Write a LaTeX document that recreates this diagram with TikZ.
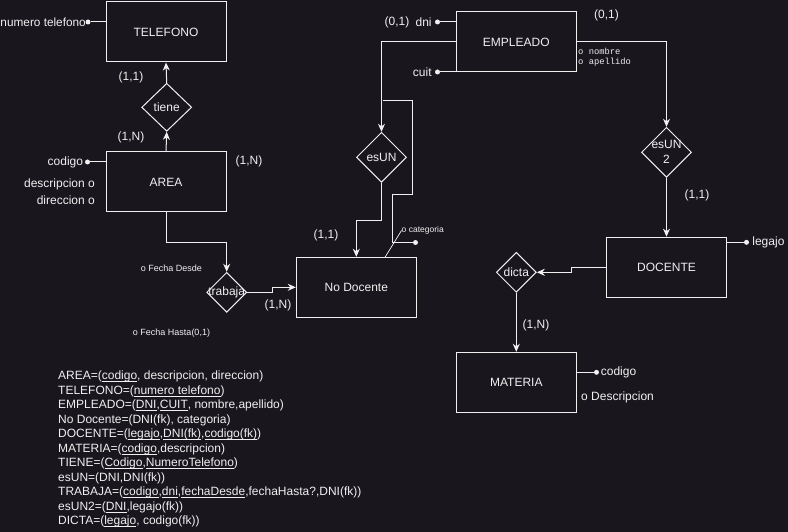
\documentclass[tikz,border=0pt]{standalone}
\usepackage{fontspec}
\setmainfont{Liberation Sans}
\newfontfamily\monof{Liberation Mono}
\usetikzlibrary{shapes.geometric,arrows.meta}
\definecolor{bgc}{RGB}{25,22,30}
\definecolor{fgc}{RGB}{240,240,240}
\newcommand\myul[1]{\underline{\smash{#1}}}
\begin{document}
\begin{tikzpicture}[x=1pt,y=-1pt,
  every node/.style={text=fgc,font=\fontsize{12}{14}\selectfont},
  entity/.style={draw=fgc,line width=1pt,rectangle,minimum width=120pt,minimum height=60pt,inner sep=0pt},
  rel/.style={draw=fgc,line width=1pt,diamond,inner sep=0pt},
  dotn/.style={circle,fill=fgc,inner sep=0pt,minimum size=5pt},
  conn/.style={draw=fgc,line width=1pt},
  arr/.style={conn,-{Stealth[length=8pt,width=7pt,inset=2.5pt]}},
  small/.style={font=\fontsize{9}{10}\selectfont},
  card/.style={font=\fontsize{12}{14}\selectfont}]
\fill[bgc] (0,0) rectangle (788,532);
\useasboundingbox (0,0) rectangle (788,532);

% entities
\node[entity] (tel) at (166,32) {TELEFONO};
\node[entity] (area) at (166,182) {AREA};
\node[entity] (emp) at (516.3,42) {EMPLEADO};
\node[entity] (nodoc) at (356.3,287.3) {No Docente};
\node[entity] (doc) at (666.5,267.2) {DOCENTE};
\node[entity] (mat) at (516.3,382.3) {MATERIA};

% relationships
\node[rel,minimum width=50pt,minimum height=48pt,label=center:tiene] (tiene) at (166.7,107.3) {};
\node[rel,minimum width=50pt,minimum height=50pt,label=center:esUN] (esun) at (381.5,157.3) {};
\node[rel,minimum width=50pt,minimum height=50pt,label={[align=center,font=\fontsize{12}{15}\selectfont]center:esUN\\2}] (esun2) at (666.5,152.3) {};
\node[rel,minimum width=40pt,minimum height=40pt,label=center:trabaja] (trab) at (226.7,292.3) {};
\node[rel,minimum width=40pt,minimum height=40pt,label=center:dicta] (dicta) at (516.3,272.3) {};

% TELEFONO / tiene / AREA
\draw[arr] (area.north) -- (tiene.south);
\draw[arr] (tiene.north) -- (tel.south);
\node[card] (c11a) at (131,77) {(1,1)};
\node[card] (c1na) at (131,137) {(1,N)};
\node[dotn] (ntd) at (88,22) {};
\draw[conn] (ntd) -- (ntd -| tel.west);
\node[anchor=west,inner sep=0pt,font=\fontsize{11.8}{14}\selectfont] (ntt) at (0.3,22) {numero telefono};
\node[dotn] (acd) at (87.5,162) {};
\draw[conn] (acd) -- (acd -| area.west);
\node[anchor=east,inner sep=0pt] (act) at ([xshift=-1.5pt]acd.west) {codigo};
\node[anchor=east,inner sep=0pt] (adesc) at (95,184.5) {descripcion o};
\node[anchor=east,inner sep=0pt] (adir) at (95,200.5) {direccion o};
\node[card] (c1nb) at (249,161) {(1,N)};

% AREA -> trabaja -> No Docente
\draw[arr] (area.south) -- ++(0,30.3) -| (trab.north);
\draw[arr] (trab.east) -- ++(25,0) |- (nodoc.west);
\node[small] (fd) at (171.5,268) {o Fecha Desde};
\node[small] (fh) at (171.5,333) {o Fecha Hasta(0,1)};
\node[card] (c1nc) at (278,305) {(1,N)};

% EMPLEADO attributes
\node[dotn] (dnid) at (437.5,22) {};
\draw[conn] (dnid) -- (dnid -| emp.west);
\node[anchor=east,inner sep=0pt] (dnit) at ([xshift=-3pt]dnid.west) {dni};
\node[card] (c01a) at (397,22) {(0,1)};
\node[dotn] (cuid) at (437.5,72) {};
\draw[conn] (cuid) -- (cuid -| emp.west);
\node[anchor=east,inner sep=0pt] (cuit) at ([xshift=-3pt]cuid.west) {cuit};
\node[anchor=west,inner sep=0pt,font=\monof\fontsize{8.8}{10}\selectfont] (nom) at (578,51) {o nombre};
\node[anchor=west,inner sep=0pt,font=\monof\fontsize{8.8}{10}\selectfont] (ape) at (578,62) {o apellido};

% EMPLEADO -> esUN -> No Docente
\draw[arr] (emp.west) -| (esun.north);
\draw[arr] (esun.south) -- ++(0,38) -| (nodoc.north);
\node[card] (c11b) at (326,235) {(1,1)};
\coordinate (cat0) at (382.7,101);
\node[dotn] (catd) at (415.5,242.5) {};
\draw[conn] (cat0) -| (412.7,195) -| (392.7,242.5) -- (catd);
\node[anchor=west,inner sep=0pt,font=\fontsize{8.5}{10}\selectfont] (catt) at (401.5,230.5) {o categoria};
\coordinate (catl) at (385,257.3);
\draw[conn,line width=0.7pt] (catl) -- (catt.west);

% EMPLEADO -> esUN2 -> DOCENTE
\draw[arr] (emp.east) -| (esun2.north);
\node[card] (c01b) at (606.5,15) {(0,1)};
\draw[arr] (esun2.south) -- (doc.north);
\node[card] (c11c) at (697,195) {(1,1)};
\node[dotn] (legd) at (746.5,242.3) {};
\draw[conn] (legd) -- (legd -| doc.east);
\node[anchor=west,inner sep=0pt] (legt) at ([xshift=3pt]legd.east) {legajo};

% DOCENTE -> dicta -> MATERIA
\draw[arr] (doc.west) -- ++(-34.6,0) |- (dicta.east);
\draw[arr] (dicta.south) -- (mat.north);
\node[card] (c1nd) at (536,325) {(1,N)};
\node[dotn] (mcd) at (596.5,372.3) {};
\draw[conn] (mcd) -- (mcd -| mat.east);
\node[anchor=west,inner sep=0pt] (mct) at ([xshift=1.5pt]mcd.east) {codigo};
\node[anchor=west,inner sep=0pt] (mdt) at (581,397) {o Descripcion};

% relational schema
\node[anchor=north west,inner sep=0pt,align=left,font=\fontsize{12}{14.5}\selectfont] (schema) at (58,371) {%
AREA=(\myul{codigo}, descripcion, direccion)\\
TELEFONO=(\myul{numero telefono})\\
EMPLEADO=(\myul{DNI},\myul{CUIT}, nombre,apellido)\\
No Docente=(DNI(fk), categoria)\\
DOCENTE=(\myul{legajo},\myul{DNI(fk)},\myul{codigo(fk)})\\
MATERIA=(\myul{codigo},descripcion)\\
TIENE=(\myul{Codigo},\myul{NumeroTelefono})\\
esUN=(DNI,DNI(fk))\\
TRABAJA=(\myul{codigo},\myul{dni},\myul{fechaDesde},fechaHasta?,DNI(fk))\\
esUN2=(\myul{DNI},legajo(fk))\\
DICTA=(\myul{legajo}, codigo(fk))};
\end{tikzpicture}
\end{document}
